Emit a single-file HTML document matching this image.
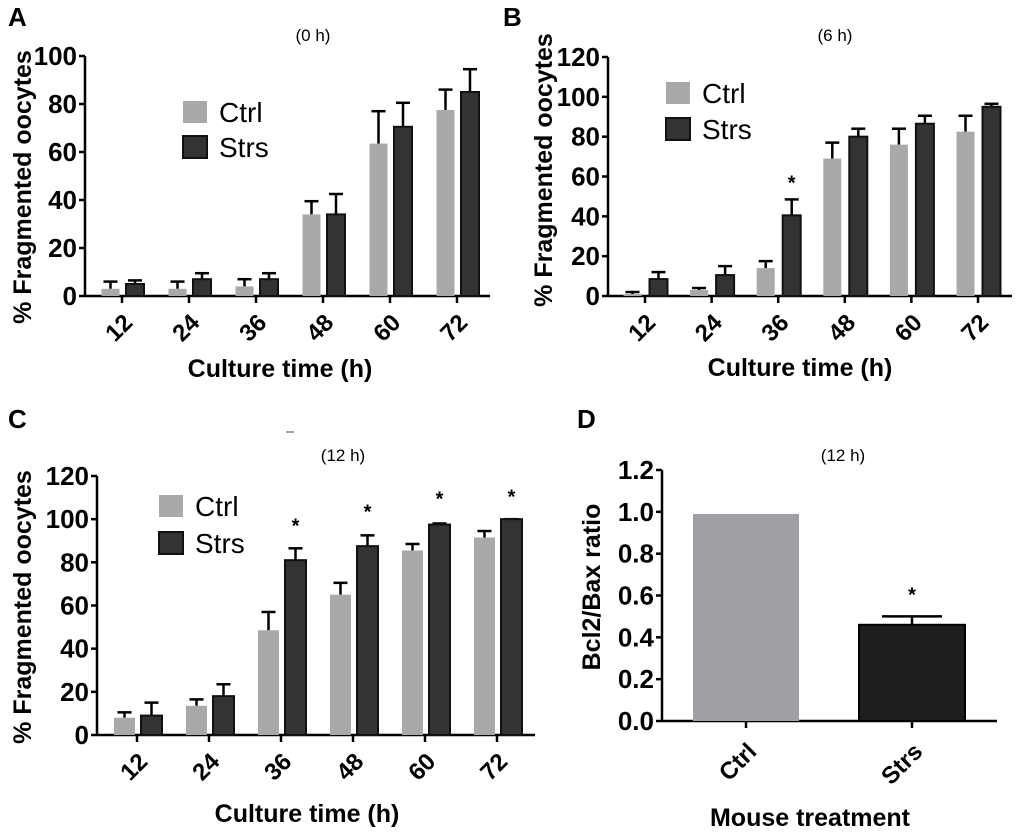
<!DOCTYPE html>
<html><head><meta charset="utf-8"><style>
body{margin:0;background:#fff;}
svg{display:block;font-family:"Liberation Sans",Arial,sans-serif;}
</style></head><body>
<svg id="fig" width="1020" height="836" viewBox="0 0 1020 836" xmlns="http://www.w3.org/2000/svg"></svg>
<script>
const categories = ["12","24","36","48","60","72"];
const aCtrl = [3,3,4,34,63.5,77.5];
const aCtrlErr = [6,6,7,39.5,77,86];
const aStrs = [5,7,7,34,70.5,85];
const aStrsErr = [6.5,9.5,9.5,42.5,80.5,94.5];
const aTicks = [0,20,40,60,80,100];
const bCtrl = [1,3,14,69,76,82.5];
const bCtrlErr = [2,4,17.5,77,84,90.5];
const bStrs = [8.5,10.5,40.5,80,86.5,95];
const bStrsErr = [12,15,48.5,84,90.5,96.5];
const bStars = [null,null,58.5,null,null,null];
const cTicks = [0,20,40,60,80,100,120];
const cCtrl = [8,13.5,48.5,65,85.5,91.5];
const cCtrlErr = [10.5,16.5,57,70.5,88.5,94.5];
const cStrs = [9,18,81,87.5,97.5,100];
const cStrsErr = [15,23.5,86.5,92.5,98,100];
const cStars = [null,null,98.5,105,111,112];
const dCats = ["Ctrl","Strs"];
const dVals = [0.99,0.46];
const dErr = [0.99,0.50];
const dStars = [null,0.62];
const dTicks = [0,0.2,0.4,0.6,0.8,1.0,1.2];

const svg=document.getElementById('fig');
const NS='http://www.w3.org/2000/svg';
function mk(tag,attrs,parent){const e=document.createElementNS(NS,tag);for(const k in attrs)e.setAttribute(k,attrs[k]);(parent||svg).appendChild(e);return e;}
function txt(s,attrs,parent){const e=mk('text',attrs,parent);e.textContent=s;return e;}

function panel(p){
  const g=mk('g',{});
  
  
  const y=v=>p.y0-(v-p.ymin)/(p.ymax-p.ymin)*(p.y0-p.ytop);
  const x=i=>p.x0cat+i*p.step;
  const cap=p.capW||7;
  const ya=mk('line',{x1:p.ax,y1:y(p.ymax),x2:p.ax,y2:p.y0+1,stroke:'#000','stroke-width':2.5},g);
  
  const xa=mk('line',{x1:p.ax,y1:p.y0,x2:p.xend,y2:p.y0,stroke:'#000','stroke-width':2.5},g);
  
  p.ticks.forEach(t=>{
    mk('line',{x1:p.ax-6,y1:y(t),x2:p.ax,y2:y(t),stroke:'#000','stroke-width':2.5},g);
    const tl=txt(p.fmt?p.fmt(t):String(t),{x:p.ax-8,y:y(t)+9,'text-anchor':'end','font-size':26,'font-weight':'bold'},g);
    
  });
  p.cats.forEach((c,i)=>{
    mk('line',{x1:x(i),y1:p.y0,x2:x(i),y2:p.y0+7,stroke:'#000','stroke-width':2.5},g);
    const lx=x(i)+p.lblDx, ly=p.y0+p.lblDy;
    const tl=txt(c,{x:lx,y:ly,'text-anchor':'end','font-size':p.lblSize||24,'font-weight':'bold',transform:`rotate(-45 ${lx} ${ly})`},g);
    
  });
  p.series.forEach(s=>{
    s.vals.forEach((v,i)=>{
      const cx=x(i)+s.off;
      if(s.err){const et=y(s.err[i]);
        mk('line',{x1:cx,y1:y(v),x2:cx,y2:et,stroke:'#000','stroke-width':2.5},g);
        mk('line',{x1:cx-cap,y1:et,x2:cx+cap,y2:et,stroke:'#000','stroke-width':2.5},g);}
      const r=mk('rect',{x:cx-p.bw/2,y:y(v),width:p.bw,height:p.y0-y(v),fill:s.fill,stroke:s.stroke,'stroke-width':s.stroke==='none'?0:2},g);
      
      
    });
    if(s.stars)s.stars.forEach((v,i)=>{if(v==null)return;
      const st=txt('*',{x:x(i)+s.off,y:y(v)+10,'text-anchor':'middle','font-size':20,'font-weight':'bold'},g);
      });
  });
  const L=txt(p.letter,{x:p.lx,y:p.ly,'font-size':26,'font-weight':'bold'},g);
  
  const T=txt(p.title,{x:p.tx,y:p.ty,'text-anchor':'middle','font-size':17},g);
  
  const yt=txt(p.ytitle,{x:p.ytx,y:p.yty,'text-anchor':'middle','font-size':25,'font-weight':'bold',transform:`rotate(-90 ${p.ytx} ${p.yty})`},g);
  
  const xt=txt(p.xtitle,{x:p.xtx,y:p.xty,'text-anchor':'middle','font-size':25,'font-weight':'bold'},g);
  
  if(p.legend){
    const lg=mk('g',{},g);
    
    [['Ctrl','#a9a9ab','none'],['Strs','#333','#111']].forEach((e,k)=>{
      const yy=p.legend.y+k*p.legend.dy;
      mk('rect',{x:p.legend.x,y:yy,width:24,height:22,fill:e[1],stroke:e[2],'stroke-width':e[2]==='none'?0:2},lg);
      const t=txt(e[0],{x:p.legend.x+36,y:yy+21,'font-size':28},lg);
      
    });
  }
}
const ctrlS=(v,e,off)=>({key:'ctrl',vals:v,err:e,off:off,fill:'#a9a9ab',stroke:'none'});
const strsS=(v,e,off,st)=>({key:'strs',vals:v,err:e,off:off,fill:'#333',stroke:'#111',stars:st});

panel({name:'panel-a',letter:'A',lx:8,ly:26,title:'(0 h)',tx:313,ty:41,ax:85,y0:296,ytop:56,ymin:0,ymax:100,ticks:aTicks,
  cats:categories,x0cat:122,step:67,xend:490,bw:18,lblDx:12,lblDy:28,
  series:[ctrlS(aCtrl,aCtrlErr,-11.5),strsS(aStrs,aStrsErr,13)],
  ytitle:'% Fragmented oocytes',ytx:31,yty:187,xtitle:'Culture time (h)',xtx:280,xty:377,legend:{x:183,y:101,dy:35}});
panel({name:'panel-b',letter:'B',lx:503,ly:26,title:'(6 h)',tx:835,ty:41,ax:608,y0:296,ytop:57,ymin:0,ymax:120,ticks:cTicks,
  cats:categories,x0cat:645,step:66.6,xend:1012,bw:18,lblDx:12,lblDy:28,
  series:[ctrlS(bCtrl,bCtrlErr,-12.5),strsS(bStrs,bStrsErr,13.5,bStars)],
  ytitle:'% Fragmented oocytes',ytx:552,yty:170,xtitle:'Culture time (h)',xtx:800,xty:376,legend:{x:666,y:82,dy:36}});
panel({name:'panel-c',letter:'C',lx:8,ly:428,title:'(12 h)',tx:343,ty:461,ax:97,y0:735,ytop:476,ymin:0,ymax:120,ticks:cTicks,
  cats:categories,x0cat:137,step:72,xend:535,bw:21,lblDx:12,lblDy:28,
  series:[ctrlS(cCtrl,cCtrlErr,-12.5),strsS(cStrs,cStrsErr,14.5,cStars)],
  ytitle:'% Fragmented oocytes',ytx:31,yty:607,xtitle:'Culture time (h)',xtx:307,xty:822,legend:{x:159,y:495,dy:37}});
panel({name:'panel-d',letter:'D',lx:577,ly:428,title:'(12 h)',tx:843,ty:461,ax:662,y0:721,ytop:470,ymin:0,ymax:1.2,ticks:dTicks,fmt:t=>t.toFixed(1),
  cats:dCats,x0cat:746,step:166,xend:997,bw:106,lblDx:12,lblDy:32,capW:30,
  series:[{key:'ctrl',vals:[dVals[0]],err:null,off:0,fill:'#a0a0a4',stroke:'none'},
          {key:'strs',vals:[dVals[1]],err:[dErr[1]],off:166,fill:'#1e1e1e',stroke:'#000',stars:[dStars[1]]}],
  ytitle:'Bcl2/Bax ratio',ytx:600,yty:587,xtitle:'Mouse treatment',xtx:810,xty:826});
const dash=mk('line',{x1:286,y1:432,x2:294,y2:432,stroke:'#888','stroke-width':1.5});


</script>
</body></html>
